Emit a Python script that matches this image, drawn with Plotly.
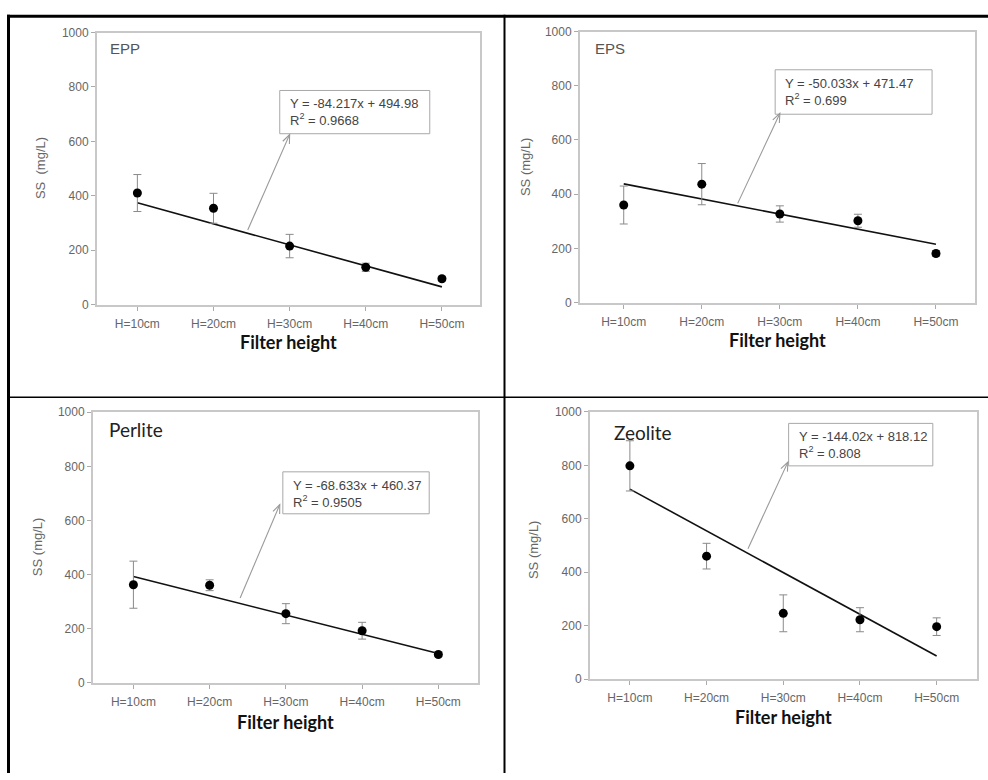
import math
import plotly.graph_objects as go

W, H = 988, 780

# ---------------- data ----------------
heights = ["H=10cm", "H=20cm", "H=30cm", "H=40cm", "H=50cm"]
positions = [1, 2, 3, 4, 5]
y_ticks = [0, 200, 400, 600, 800, 1000]

epp_ss = [410, 354, 215, 137, 95]
epp_err = [68, 55, 43, 15, 8]
eps_ss = [360, 437, 327, 302, 181]
eps_err = [70, 76, 30, 24, 10]
perlite_ss = [363, 361, 256, 193, 105]
perlite_err = [87, 20, 37, 31, 8]
zeolite_ss = [798, 460, 246, 222, 196]
zeolite_err = [94, 48, 69, 45, 33]

# trend lines as drawn (value at H=10cm and at H=50cm)
trend_x = [1, 5]
epp_trend = [374, 65]
eps_trend = [438, 215]
perlite_trend = [393, 109]
zeolite_trend = [711, 86]

materials = ["EPP", "EPS", "Perlite", "Zeolite"]
equations = ["Y = -84.217x + 494.98", "Y = -50.033x + 471.47",
             "Y = -68.633x + 460.37", "Y = -144.02x + 818.12"]
r_squared = ["0.9668", "0.699", "0.9505", "0.808"]
y_titles = ["SS  (mg/L)", "SS (mg/L)", "SS (mg/L)", "SS (mg/L)"]

# ---------------- layout config (pixel positions on the page) ----------------
panels = [
    dict(name="EPP", ss=epp_ss, err=epp_err, trend=epp_trend,
         px=(97, 480), py=(26, 303), xr=(0.47, 5.5),
         lab_pos=(0.62, 942), lab_font=dict(family="Arial", size=15, color="#555"),
         box=(2.87, 628, 4.84, 787), arrow=((2.45, 274), (3.0, 625)),
         ytitle_px=(40, 164), xtitle_py=341),
    dict(name="EPS", ss=eps_ss, err=eps_err, trend=eps_trend,
         px=(580, 975), py=(25, 301), xr=(0.44, 5.5),
         lab_pos=(0.61, 938), lab_font=dict(family="Arial", size=15, color="#555"),
         box=(2.94, 695, 4.95, 859), arrow=((2.46, 366), (3.0, 698)),
         ytitle_px=(525, 163), xtitle_py=339),
    dict(name="Perlite", ss=perlite_ss, err=perlite_err, trend=perlite_trend,
         px=(93, 478), py=(412.7, 688.3), xr=(0.47, 5.52),
         lab_pos=(0.655, 937), lab_font=dict(family="Lato", size=19, color="#222"),
         box=(2.96, 625, 4.88, 780), arrow=((2.40, 314), (2.92, 659)),
         ytitle_px=(37, 550), xtitle_py=728),
    dict(name="Zeolite", ss=zeolite_ss, err=zeolite_err, trend=zeolite_trend,
         px=(590, 977.3), py=(412.3, 684.3), xr=(0.48, 5.53),
         lab_pos=(0.765, 924), lab_font=dict(family="Lato", size=19, color="#222"),
         box=(3.07, 798, 4.95, 957), arrow=((2.54, 488), (3.06, 812)),
         ytitle_px=(533, 553), xtitle_py=723),
]


def fx(px):
    return px / W


def fy(py):
    return 1 - py / H


fig = go.Figure()
shapes = []
annotations = []
layout_axes = {}

for i, p in enumerate(panels):
    n = "" if i == 0 else str(i + 1)
    xa, ya = "x" + n, "y" + n

    fig.add_trace(go.Scatter(
        x=trend_x, y=p["trend"], mode="lines", xaxis=xa, yaxis=ya,
        line=dict(color="#111", width=1.6), showlegend=False, hoverinfo="skip"))
    fig.add_trace(go.Scatter(
        x=positions, y=p["ss"], mode="markers", xaxis=xa, yaxis=ya,
        marker=dict(color="black", size=9),
        error_y=dict(type="data", array=p["err"], color="#8a8a8a",
                     thickness=1, width=4),
        showlegend=False, name=p["name"]))

    axis_common = dict(showline=True, linecolor="#c8c8c8", linewidth=2,
                       mirror=True, ticks="outside", ticklen=4,
                       tickcolor="#aaa", showgrid=False, zeroline=False,
                       tickfont=dict(family="Arial", size=12, color="#666"))
    layout_axes["xaxis" + n] = dict(
        domain=[fx(p["px"][0]), fx(p["px"][1])], range=list(p["xr"]),
        tickvals=positions, ticktext=heights, anchor=ya,
        ticklabelstandoff=3, **axis_common)
    layout_axes["yaxis" + n] = dict(
        domain=[fy(p["py"][1]), fy(p["py"][0])], range=[0, 1000],
        tickvals=y_ticks, anchor=xa, **axis_common)

    # equation box
    bx0, by0, bx1, by1 = p["box"]
    shapes.append(dict(type="rect", xref=xa, yref=ya, x0=bx0, y0=by0,
                       x1=bx1, y1=by1, line=dict(color="#a8a8a8", width=1),
                       fillcolor="white", layer="above"))
    annotations.append(dict(
        xref=xa, yref=ya, x=bx0, y=by1, xanchor="left", yanchor="top",
        xshift=8, yshift=-4, showarrow=False, align="left",
        text=equations[i] + "<br>R<sup>2</sup> = " + r_squared[i],
        font=dict(family="Arial", size=13, color="#444")))

    # arrow (line + open arrowhead), head geometry computed in screen pixels
    (tx, ty), (hx, hy) = p["arrow"]
    sx = (p["px"][1] - p["px"][0]) / (p["xr"][1] - p["xr"][0])
    sy = (p["py"][1] - p["py"][0]) / 1000.0
    dx, dy = (hx - tx) * sx, (hy - ty) * sy
    L = math.hypot(dx, dy)
    ux, uy = dx / L, dy / L
    nx, ny = -uy, ux
    back, half = 9.0, 3.6
    w1 = (hx + (-back * ux + half * nx) / sx, hy + (-back * uy + half * ny) / sy)
    w2 = (hx + (-back * ux - half * nx) / sx, hy + (-back * uy - half * ny) / sy)
    shapes.append(dict(type="line", xref=xa, yref=ya, x0=tx, y0=ty, x1=hx, y1=hy,
                       line=dict(color="#999", width=1.1)))
    shapes.append(dict(type="path", xref=xa, yref=ya,
                       path=f"M {w1[0]},{w1[1]} L {hx},{hy} L {w2[0]},{w2[1]}",
                       line=dict(color="#999", width=1.1)))

    # panel label
    annotations.append(dict(
        xref=xa, yref=ya, x=p["lab_pos"][0], y=p["lab_pos"][1],
        xanchor="left", yanchor="middle", showarrow=False,
        text=materials[i], font=p["lab_font"]))
    # y title
    annotations.append(dict(
        xref="paper", yref="paper", x=fx(p["ytitle_px"][0]),
        y=fy(p["ytitle_px"][1]), xanchor="center", yanchor="middle",
        textangle=-90, showarrow=False, text=y_titles[i],
        font=dict(family="Arial", size=13, color="#666")))
    # x title
    annotations.append(dict(
        xref="paper", yref="paper",
        x=fx((p["px"][0] + p["px"][1]) / 2), y=fy(p["xtitle_py"]),
        xanchor="center", yanchor="middle", showarrow=False,
        text="<b>Filter height</b>",
        font=dict(family="Lato", size=18, color="#111")))


# table borders
def hline(py, x0, x1, w):
    return dict(type="line", xref="paper", yref="paper", x0=fx(x0), x1=fx(x1),
                y0=fy(py), y1=fy(py), line=dict(color="black", width=w))


def vline(px, y0, y1, w):
    return dict(type="line", xref="paper", yref="paper", x0=fx(px), x1=fx(px),
                y0=fy(y0), y1=fy(y1), line=dict(color="black", width=w))


shapes += [hline(9.5, 7, W, 3), vline(8.5, 8, H, 3),
           vline(504.5, 8, H, 2), hline(397.5, 8, W, 1.5)]

fig.update_layout(
    width=W, height=H, autosize=False,
    margin=dict(l=0, r=0, t=0, b=0),
    paper_bgcolor="white", plot_bgcolor="white",
    shapes=shapes, annotations=annotations, showlegend=False,
    **layout_axes)

fig.write_html(
    "out.html",
    config={"displayModeBar": False},
    post_script=(
        "document.body.style.margin='0';document.body.style.padding='0';"
        "document.documentElement.style.overflow='hidden';"
        "var gd=document.querySelector('.plotly-graph-div');"
        "gd.style.position='absolute';gd.style.top='0px';gd.style.left='0px';"
    ))
